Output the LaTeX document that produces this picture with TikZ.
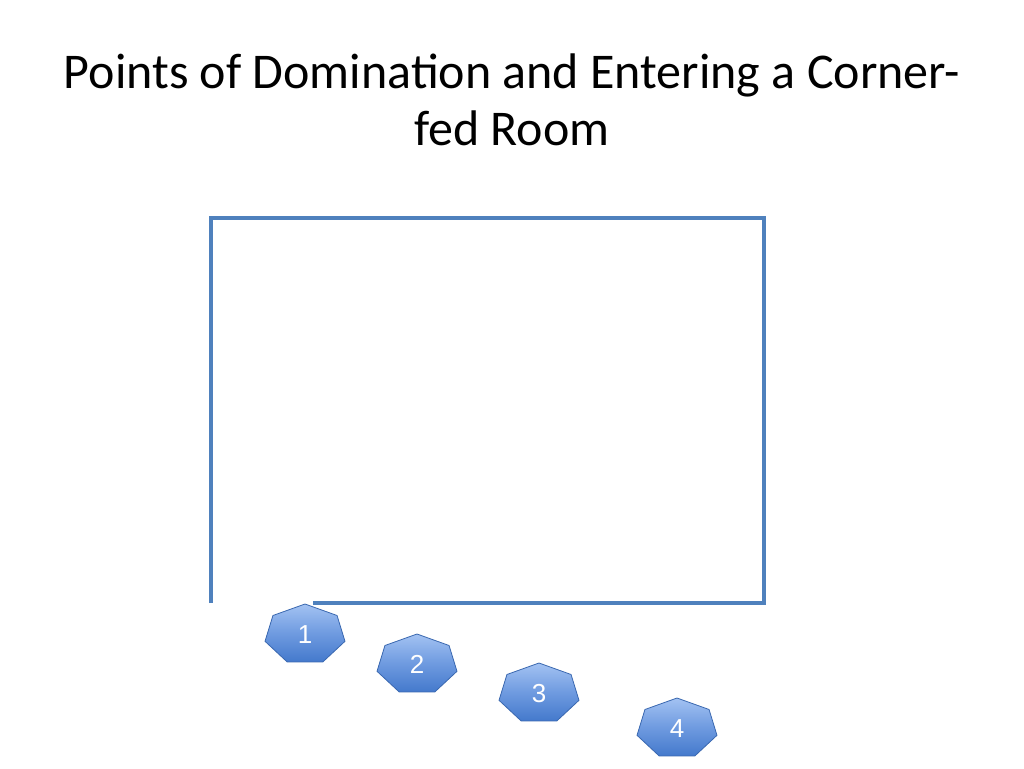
\documentclass[tikz,border=0pt]{standalone}
\usepackage{fontspec}
\setmainfont{Carlito}
\newfontfamily\numfont{Liberation Sans}
\definecolor{wallblue}{HTML}{4F81BD}
\definecolor{hepTop}{HTML}{A3C2F2}
\definecolor{hepMid}{HTML}{6F9BE0}
\definecolor{hepBot}{HTML}{4479CC}
\definecolor{hepLine}{HTML}{3A68B0}
\tikzset{
  wall/.style={draw=wallblue, line width=2.4pt, line cap=butt},
  hept/.style={top color=hepTop, bottom color=hepBot, middle color=hepMid, draw=hepLine, line width=0.6pt},
  heplabel/.style={text=white, font=\numfont\fontsize{19.5}{22}\selectfont, inner sep=0pt},
  title/.style={font=\fontsize{37.5}{43}\selectfont, align=center, text=black}
}
\begin{document}
\begin{tikzpicture}[x=0.75pt, y=-0.75pt]
\useasboundingbox (0,0) rectangle (1024,768);
\fill[white] (0,0) rectangle (1024,768);
\node[title] (ttl) at (512,100) {Points of Domination and Entering a Corner-\\fed Room};
% walls
\coordinate (bl) at (211,603);
\coordinate (tl) at (211,218);
\coordinate (tr) at (764,218);
\coordinate (br) at (764,603);
\coordinate (door) at (313,603);
\draw[wall] (bl) -- (tl) -- (tr) -- (br) -- (door);
% heptagons
\foreach \n/\cx/\cy in {1/305/634.5, 2/417/664.5, 3/539/693.5, 4/677/728.5}{
  \path[hept] ({\cx+41*cos(90)},{\cy-30.5*sin(90)})
    \foreach \k in {1,...,6}{ -- ({\cx+41*cos(90+\k*360/7)},{\cy-30.5*sin(90+\k*360/7)}) } -- cycle;
  \node[heplabel] (h\n) at (\cx,\cy) {\n};
}
\end{tikzpicture}
\end{document}
